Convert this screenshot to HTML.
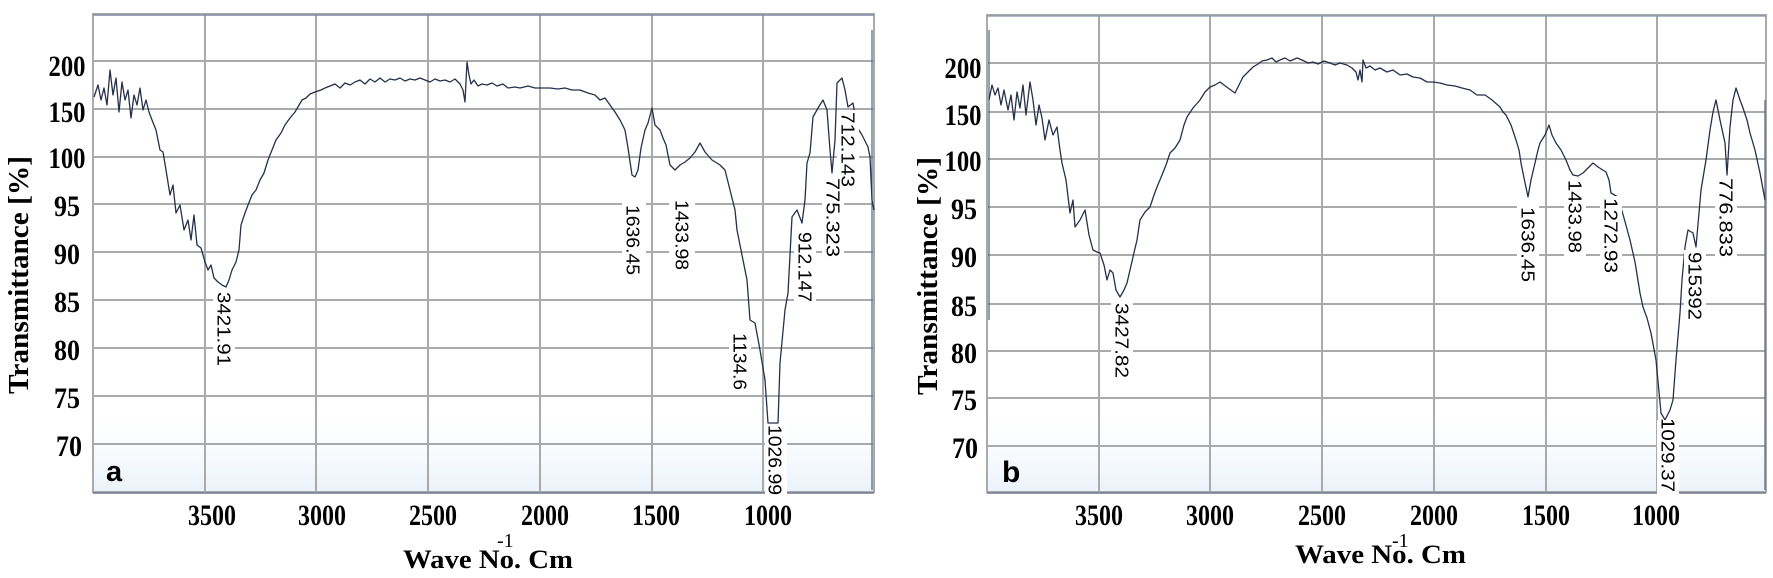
<!DOCTYPE html>
<html><head><meta charset="utf-8"><style>
html,body{margin:0;padding:0;background:#fff;}
svg{display:block;}
.t{font-family:"Liberation Serif",serif;font-weight:bold;fill:#000;}
.p{font-family:"Liberation Sans",sans-serif;fill:#000;font-size:18px;}
.g{stroke:#aaaaaa;stroke-width:2;fill:none;}
.c{fill:none;stroke:#27304a;stroke-width:1.3;stroke-linejoin:round;}
</style></head><body>
<svg width="1773" height="578" viewBox="0 0 1773 578" xmlns="http://www.w3.org/2000/svg">
<defs>
<linearGradient id="tint" x1="0" y1="0" x2="0" y2="1">
<stop offset="0" stop-color="#ffffff" stop-opacity="0"/>
<stop offset="1" stop-color="#eaf2fa" stop-opacity="1"/>
</linearGradient>
</defs>
<rect width="1773" height="578" fill="#fff"/>

<!-- ===== Panel a ===== -->
<rect x="93" y="400" width="781" height="92" fill="url(#tint)"/>
<g class="g">
<rect x="93" y="14" width="781" height="478"/>
<path d="M205 14V492M316 14V492M428 14V492M540 14V492M652 14V492M763 14V492"/>
<path d="M93 61H874M93 109H874M93 157H874M93 204H874M93 252H874M93 300H874M93 348H874M93 396H874M93 444H874"/>
</g>
<path d="M93 15H874" stroke="#7e8aa5" stroke-width="1.5"/>
<path d="M93 493H874" stroke="#6e7890" stroke-width="1.5"/>
<path d="M872 30V490" stroke="#55607a" stroke-width="1.2"/>

<polyline class="c" points="94,97 98,85 101,100 104,88 107,105 110,70 113,95 116,78 119,112 122,82 125,100 128,90 131,118 134,95 137,105 140,88 143,110 146,100 149,112 152,120 156,130 160,150 163,152 166,170 170,195 173,185 176,213 180,205 184,230 188,220 191,240 194,215 197,245 201,248 205,262 208,270 211,265 214,278 218,282 222,285 226,287 229,280 232,270 236,262 239,250 241,225 245,213 248,205 252,195 256,190 260,180 264,173 268,160 272,150 276,140 281,133 285,125 290,118 295,112 302,100 306,98 310,94 315,92 321,90 325,88 330,86 335,84 340,88 345,83 350,85 355,82 360,80 365,84 370,79 375,82 380,78 385,82 390,79 395,80 400,78 405,81 410,79 415,80 420,78 425,80 430,82 435,79 440,81 445,80 450,82 455,79 460,84 463,90 465,102 467,62 469,75 471,84 474,80 478,86 482,84 487,85 492,83 497,86 503,84 508,88 515,87 520,88 528,86 535,88 542,88 550,88 558,89 565,88 572,90 580,90 588,93 595,95 600,100 605,98 610,105 615,112 620,120 625,130 628,148 632,175 635,177 638,170 641,148 645,130 648,123 652,108 655,125 660,130 663,138 666,145 670,165 675,170 680,165 685,162 690,158 695,152 700,143 705,152 712,160 720,165 725,170 730,190 735,210 737,230 742,255 747,280 750,320 755,323 760,350 765,380 768,423 773,423 778,423 780,363 785,310 788,293 792,217 797,210 802,223 805,200 807,163 810,153 813,117 818,108 823,100 827,110 830,150 832,173 835,140 837,83 842,78 845,90 848,107 853,103 857,127 862,135 868,147 870,157 872,200 874,210"/>

<g fill="#fff">
<rect x="213" y="290" width="22" height="80"/>
<rect x="622" y="182" width="24" height="98"/>
<rect x="669" y="198" width="26" height="76"/>
<rect x="729" y="330" width="22" height="64"/>
<rect x="765" y="424" width="22" height="72"/>
<rect x="794" y="230" width="22" height="72"/>
<rect x="822" y="176" width="22" height="84"/>
<rect x="837" y="110" width="22" height="80"/>
</g>
<g class="p">
<text transform="translate(217.5,292) rotate(90)" textLength="74" lengthAdjust="spacingAndGlyphs">3421.91</text>
<text transform="translate(626.5,205) rotate(90)" textLength="70" lengthAdjust="spacingAndGlyphs">1636.45</text>
<text transform="translate(675.5,200) rotate(90)" textLength="70" lengthAdjust="spacingAndGlyphs">1433.98</text>
<text transform="translate(733.5,333) rotate(90)" textLength="57" lengthAdjust="spacingAndGlyphs">1134.6</text>
<text transform="translate(768.5,425) rotate(90)" textLength="70" lengthAdjust="spacingAndGlyphs">1026.99</text>
<text transform="translate(798.5,232) rotate(90)" textLength="70" lengthAdjust="spacingAndGlyphs">912.147</text>
<text transform="translate(826.5,178) rotate(90)" textLength="79" lengthAdjust="spacingAndGlyphs">775.323</text>
<text transform="translate(841.5,112) rotate(90)" textLength="75" lengthAdjust="spacingAndGlyphs">712.143</text>
</g>

<text x="106" y="481" style="font-family:'Liberation Sans',sans-serif;font-weight:bold;font-size:29px;">a</text>

<g class="t" font-size="30" text-anchor="middle">
<text x="67" y="76" textLength="37" lengthAdjust="spacingAndGlyphs">200</text>
<text x="67" y="122" textLength="37" lengthAdjust="spacingAndGlyphs">150</text>
<text x="67" y="168" textLength="37" lengthAdjust="spacingAndGlyphs">100</text>
<text x="67" y="216" textLength="26" lengthAdjust="spacingAndGlyphs">95</text>
<text x="67" y="264" textLength="26" lengthAdjust="spacingAndGlyphs">90</text>
<text x="67" y="312" textLength="26" lengthAdjust="spacingAndGlyphs">85</text>
<text x="67" y="360" textLength="26" lengthAdjust="spacingAndGlyphs">80</text>
<text x="67" y="408" textLength="26" lengthAdjust="spacingAndGlyphs">75</text>
<text x="69" y="456" textLength="26" lengthAdjust="spacingAndGlyphs">70</text>
</g>
<g class="t" font-size="30" text-anchor="middle">
<text x="212" y="525" textLength="48" lengthAdjust="spacingAndGlyphs">3500</text>
<text x="322" y="525" textLength="48" lengthAdjust="spacingAndGlyphs">3000</text>
<text x="433" y="525" textLength="48" lengthAdjust="spacingAndGlyphs">2500</text>
<text x="545" y="525" textLength="48" lengthAdjust="spacingAndGlyphs">2000</text>
<text x="656" y="525" textLength="48" lengthAdjust="spacingAndGlyphs">1500</text>
<text x="768" y="525" textLength="48" lengthAdjust="spacingAndGlyphs">1000</text>
</g>
<text class="t" x="403" y="568" font-size="26" textLength="170" lengthAdjust="spacingAndGlyphs">Wave No. Cm</text>
<text class="t" x="497" y="547" font-size="20" style="font-weight:normal">-1</text>
<text class="t" font-size="29" transform="translate(28,394) rotate(-90)" textLength="238" lengthAdjust="spacingAndGlyphs">Transmittance [%]</text>

<!-- ===== Panel b ===== -->
<rect x="987" y="400" width="779" height="92" fill="url(#tint)"/>
<g class="g">
<rect x="987" y="15" width="779" height="477"/>
<path d="M1099 15V492M1210 15V492M1322 15V492M1434 15V492M1546 15V492M1657 15V492"/>
<path d="M987 63H1766M987 112H1766M987 159H1766M987 207H1766M987 255H1766M987 304H1766M987 351H1766M987 398H1766M987 446H1766"/>
</g>
<path d="M987 16H1766" stroke="#8894ad" stroke-width="1.3"/>
<path d="M987 493H1766" stroke="#6e7890" stroke-width="1.5"/>
<path d="M989 30V320" stroke="#55607a" stroke-width="1.2"/>
<path d="M1765 100V490" stroke="#55607a" stroke-width="1.2"/>

<polyline class="c" points="989,100 992,85 995,95 998,88 1001,105 1004,90 1008,110 1011,95 1014,120 1017,92 1020,108 1023,85 1026,115 1030,82 1033,100 1036,125 1039,105 1042,118 1045,140 1049,120 1053,135 1057,127 1060,150 1062,163 1066,180 1070,213 1073,200 1075,227 1080,220 1085,210 1089,235 1093,250 1097,252 1100,253 1104,265 1107,280 1110,270 1113,273 1116,290 1120,297 1124,290 1127,283 1130,270 1133,257 1137,240 1140,220 1145,212 1150,207 1154,195 1157,187 1162,175 1166,165 1170,153 1175,148 1180,140 1184,125 1187,117 1193,108 1200,100 1205,92 1210,87 1215,85 1220,82 1228,88 1235,93 1239,85 1243,77 1248,72 1253,67 1258,64 1262,61 1267,60 1272,58 1276,62 1280,60 1285,58 1290,61 1297,58 1302,60 1308,63 1313,62 1318,64 1324,61 1330,63 1335,65 1340,63 1347,65 1352,68 1356,72 1358,80 1360,70 1362,82 1363,60 1366,68 1370,66 1375,70 1380,68 1387,72 1393,70 1400,75 1407,74 1413,77 1420,78 1427,82 1433,82 1440,83 1447,85 1455,86 1462,88 1470,90 1477,95 1485,95 1492,100 1500,107 1503,112 1506,115 1511,125 1516,140 1519,150 1521,163 1524,178 1528,197 1531,180 1535,163 1538,150 1540,143 1545,135 1549,125 1552,135 1556,143 1561,150 1566,160 1570,170 1573,175 1578,176 1583,173 1588,168 1593,163 1598,167 1606,172 1609,180 1611,193 1618,197 1624,218 1630,240 1635,262 1640,293 1643,307 1647,318 1651,333 1656,360 1661,413 1665,420 1670,410 1673,400 1676,360 1680,313 1682,280 1685,247 1688,230 1693,233 1696,247 1701,190 1706,160 1710,130 1713,112 1716,100 1720,120 1725,143 1727,175 1730,127 1733,100 1736,88 1740,100 1743,108 1747,120 1750,133 1755,150 1760,173 1765,200"/>

<g fill="#fff">
<rect x="1111" y="300" width="22" height="80"/>
<rect x="1517" y="204" width="22" height="80"/>
<rect x="1564" y="178" width="22" height="78"/>
<rect x="1600" y="196" width="22" height="80"/>
<rect x="1657" y="420" width="22" height="74"/>
<rect x="1684" y="250" width="22" height="72"/>
<rect x="1715" y="176" width="22" height="84"/>
</g>
<g class="p">
<text transform="translate(1115.5,303) rotate(90)" textLength="75" lengthAdjust="spacingAndGlyphs">3427.82</text>
<text transform="translate(1521.5,207) rotate(90)" textLength="75" lengthAdjust="spacingAndGlyphs">1636.45</text>
<text transform="translate(1568.5,180) rotate(90)" textLength="73" lengthAdjust="spacingAndGlyphs">1433.98</text>
<text transform="translate(1604.5,198) rotate(90)" textLength="75" lengthAdjust="spacingAndGlyphs">1272.93</text>
<text transform="translate(1661.5,418) rotate(90)" textLength="74" lengthAdjust="spacingAndGlyphs">1029.37</text>
<text transform="translate(1688.5,252) rotate(90)" textLength="68" lengthAdjust="spacingAndGlyphs">915392</text>
<text transform="translate(1719.5,178) rotate(90)" textLength="79" lengthAdjust="spacingAndGlyphs">776.833</text>
</g>

<text x="1002" y="482" style="font-family:'Liberation Sans',sans-serif;font-weight:bold;font-size:30px;">b</text>

<g class="t" font-size="30" text-anchor="middle">
<text x="963" y="78" textLength="37" lengthAdjust="spacingAndGlyphs">200</text>
<text x="963" y="125" textLength="37" lengthAdjust="spacingAndGlyphs">150</text>
<text x="963" y="171" textLength="37" lengthAdjust="spacingAndGlyphs">100</text>
<text x="964" y="219" textLength="26" lengthAdjust="spacingAndGlyphs">95</text>
<text x="964" y="267" textLength="26" lengthAdjust="spacingAndGlyphs">90</text>
<text x="964" y="316" textLength="26" lengthAdjust="spacingAndGlyphs">85</text>
<text x="964" y="363" textLength="26" lengthAdjust="spacingAndGlyphs">80</text>
<text x="964" y="410" textLength="26" lengthAdjust="spacingAndGlyphs">75</text>
<text x="965" y="458" textLength="26" lengthAdjust="spacingAndGlyphs">70</text>
</g>
<g class="t" font-size="30" text-anchor="middle">
<text x="1099" y="525" textLength="48" lengthAdjust="spacingAndGlyphs">3500</text>
<text x="1210" y="525" textLength="48" lengthAdjust="spacingAndGlyphs">3000</text>
<text x="1322" y="525" textLength="48" lengthAdjust="spacingAndGlyphs">2500</text>
<text x="1434" y="525" textLength="48" lengthAdjust="spacingAndGlyphs">2000</text>
<text x="1546" y="525" textLength="48" lengthAdjust="spacingAndGlyphs">1500</text>
<text x="1656" y="525" textLength="48" lengthAdjust="spacingAndGlyphs">1000</text>
</g>
<text class="t" x="1295" y="563" font-size="26" textLength="171" lengthAdjust="spacingAndGlyphs">Wave No. Cm</text>
<text class="t" x="1392" y="547" font-size="20" style="font-weight:normal">-1</text>
<text class="t" font-size="29" transform="translate(937,395) rotate(-90)" textLength="238" lengthAdjust="spacingAndGlyphs">Transmittance [%]</text>
</svg>
</body></html>
